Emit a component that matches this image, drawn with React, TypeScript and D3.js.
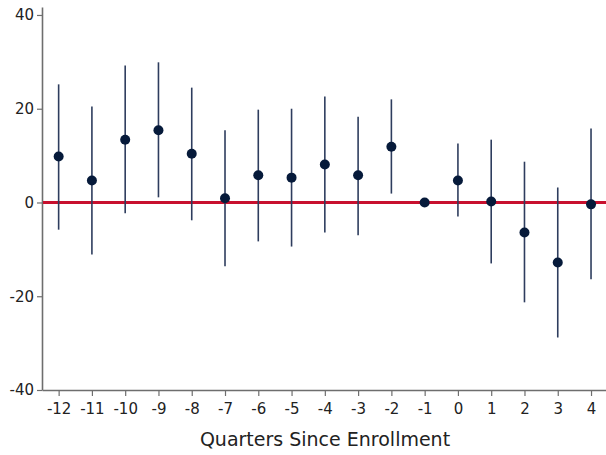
import React, { useEffect, useRef } from "react";
import * as d3 from "d3";

// event-study estimates
const quarters = [-12, -11, -10, -9, -8, -7, -6, -5, -4, -3, -2, -1, 0, 1, 2, 3, 4];
const estimate = [9.8, 4.7, 13.4, 15.4, 10.4, 0.9, 5.8, 5.3, 8.1, 5.8, 11.9, 0, 4.7, 0.2, -6.4, -12.8, -0.4];
const ciLow = [-5.8, -11.1, -2.3, 1.1, -3.8, -13.6, -8.3, -9.4, -6.4, -7.0, 1.9, 0, -3.0, -13.0, -21.3, -28.8, -16.4];
const ciHigh = [25.2, 20.5, 29.2, 29.9, 24.5, 15.4, 19.8, 20.0, 22.6, 18.3, 22.0, 0, 12.6, 13.4, 8.7, 3.2, 15.8];
const yTicks = [-40, -20, 0, 20, 40];

export default function App() {
  const svgRef = useRef<SVGSVGElement>(null);

  useEffect(() => {
    const w = 606;
    const h = 455;
    const svg = d3.select(svgRef.current).attr("width", w).attr("height", h);
    svg.selectAll("*").remove();

    const font = "DejaVu Sans, sans-serif";
    const axisColor = "#6e6e6e";
    const fmt = (d: any) => String(d); // plain hyphen minus like the original

    //scales
    const x = d3.scaleLinear().domain([-12.5, 4.45]).range([42, 606]);
    const y = d3.scaleLinear().domain([-40, 41.7]).range([390, 7]);

    //axes
    const yAxis = d3.axisLeft(y).tickValues(yTicks).tickFormat(fmt).tickSize(5).tickSizeOuter(0).tickPadding(3);
    const xAxis = d3.axisBottom(x).tickValues(quarters).tickFormat(fmt).tickSize(6).tickSizeOuter(0).tickPadding(7);

    const gy = svg.append("g").attr("transform", `translate(42,0)`).call(yAxis);
    const gx = svg.append("g").attr("transform", `translate(0,390)`).call(xAxis);

    [gx, gy].forEach((g) => {
      g.select(".domain").attr("stroke", axisColor).attr("stroke-width", 1.6);
      g.selectAll(".tick line").attr("stroke", axisColor).attr("stroke-width", 1.2);
      g.selectAll(".tick text")
        .attr("fill", "#222")
        .style("font-family", font)
        .style("font-size", "15px");
    });

    //zero line
    svg
      .append("line")
      .attr("x1", 43)
      .attr("x2", 606)
      .attr("y1", y(0))
      .attr("y2", y(0))
      .attr("stroke", "#c8102e")
      .attr("stroke-width", 3);

    //confidence intervals
    svg
      .selectAll(".ci")
      .data(quarters)
      .join("line")
      .attr("x1", (d) => x(d))
      .attr("x2", (d) => x(d))
      .attr("y1", (d, i) => y(ciLow[i]))
      .attr("y2", (d, i) => y(ciHigh[i]))
      .attr("stroke", "#2e3d5e")
      .attr("stroke-width", 1.6);

    //point estimates
    svg
      .selectAll(".pt")
      .data(quarters)
      .join("circle")
      .attr("cx", (d) => x(d))
      .attr("cy", (d, i) => y(estimate[i]))
      .attr("r", 5)
      .attr("fill", "#061a3a");

    svg
      .append("text")
      .attr("x", 325)
      .attr("y", 446)
      .attr("text-anchor", "middle")
      .attr("fill", "#222")
      .style("font-family", font)
      .style("font-size", "19px")
      .text("Quarters Since Enrollment");
  }, []);

  return (
    <div style={{ position: "absolute", left: 0, top: 0 }}>
      <svg ref={svgRef}></svg>
    </div>
  );
}
